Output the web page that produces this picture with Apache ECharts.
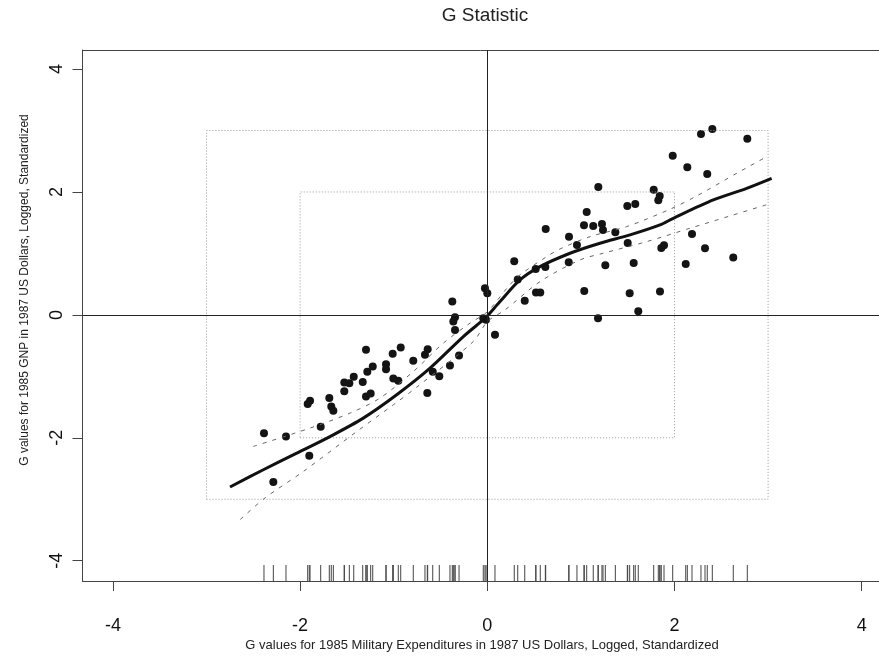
<!DOCTYPE html>
<html><head><meta charset="utf-8">
<script src="https://cdn.jsdelivr.net/npm/echarts@6/dist/echarts.min.js"></script>
<style>html,body{margin:0;padding:0;background:#fff}#c{width:879px;height:657px}</style>
</head><body><div id="c"></div>
<script>
// ---- data ----
const pointsX = [-0.374,-0.345,-0.363,-0.345,-0.043,-1.296,-1.011,-0.925,-0.637,-0.666,-0.791,-1.082,-1.082,-1.224,-1.282,-1.427,-1.528,-1.474,-1.331,-1.528,-1.004,-0.951,-0.302,-0.399,-0.583,-0.513,-0.641,-1.296,-1.246,-1.688,-1.894,-1.919,-1.667,-1.645,-1.780,-2.151,-2.386,-1.902,-2.286,
  2.283,2.404,2.778,1.981,2.137,2.350,1.186,1.778,1.842,1.827,1.496,1.581,1.062,1.033,1.132,1.225,1.236,1.368,0.624,0.873,0.958,1.500,2.187,1.859,1.888,2.326,2.628,2.120,0.288,0.517,0.620,0.870,1.261,1.564,0.325,0.520,0.566,1.036,1.521,1.845,0.400,1.613,1.183,-0.025,0.000,-0.014,0.082];
const pointsY = [0.216,-0.037,-0.109,-0.244,-0.054,-0.569,-0.634,-0.532,-0.558,-0.650,-0.748,-0.802,-0.883,-0.841,-0.927,-1.008,-1.101,-1.111,-1.094,-1.241,-1.036,-1.073,-0.662,-0.824,-0.927,-0.997,-1.273,-1.328,-1.280,-1.354,-1.398,-1.452,-1.491,-1.561,-1.821,-1.979,-1.924,-2.293,-2.720,
  2.943,3.024,2.867,2.590,2.402,2.293,2.081,2.037,1.935,1.865,1.772,1.805,1.675,1.459,1.447,1.480,1.382,1.345,1.398,1.273,1.138,1.171,1.317,1.089,1.133,1.085,0.932,0.829,0.873,0.748,0.780,0.857,0.808,0.846,0.574,0.363,0.363,0.390,0.353,0.379,0.228,0.060,-0.054,0.434,0.353,-0.081,-0.325];
const smoothX = [-2.749,-2.393,-2.036,-1.681,-1.325,-0.968,-0.612,-0.256,-0.043,-0.006,0.136,0.349,0.563,0.884,1.204,1.525,1.845,1.987,2.415,2.771,3.038];
const smoothY = [-2.80,-2.52,-2.25,-1.98,-1.68,-1.30,-0.867,-0.353,-0.081,-0.028,0.216,0.569,0.785,1.003,1.166,1.301,1.463,1.572,1.870,2.060,2.223];
const upperX = [-2.5,-1.894,-1.467,-1.147,-0.791,-0.47,-0.185,0,0.224,0.349,0.635,0.777,1.097,1.489,1.952,2.237,2.665,2.98];
const upperY = [-2.14,-1.842,-1.598,-1.354,-0.922,-0.46,-0.135,0.05,0.46,0.65,0.948,1.073,1.273,1.436,1.719,1.935,2.304,2.57];
const lowerX = [-2.64,-2.376,-1.966,-1.395,-1.004,-0.754,-0.15,0,0.189,0.563,0.990,1.239,1.703,2.166,2.593,2.98];
const lowerY = [-3.33,-2.98,-2.548,-1.898,-1.463,-1.176,-0.434,-0.11,0.081,0.541,0.894,1.003,1.192,1.41,1.61,1.79];
const xTicks = [-4,-2,0,2,4];
const yTicks = [-4,-2,0,2,4];
const boxOuter = 3;
const boxInner = 2;
const titleText = 'G Statistic';
const xName = 'G values for 1985 Military Expenditures in 1987 US Dollars, Logged, Standardized';
const yName = 'G values for 1985 GNP in 1987 US Dollars, Logged, Standardized';

// ---- chart ----
const X_MIN = -4.325, X_MAX = 4.185, Y_MIN = -4.33, Y_MAX = 4.31;
const zip = (a, b) => a.map((v, i) => [v, b[i]]);
const box = s => [[-s,-s],[s,-s],[s,s],[-s,s],[-s,-s]];
const FONT = '"Liberation Sans", Arial, Helvetica, sans-serif';

const chart = echarts.init(document.getElementById('c'));
chart.setOption({
  animation: false,
  backgroundColor: '#fff',
  grid: { left: 82.5, right: 0, top: 50, bottom: 76, containLabel: false, show: false },
  xAxis: [{
    type: 'value', min: X_MIN, max: X_MAX, position: 'bottom',
    splitLine: { show: false },
    axisLine: { show: true, onZero: false, lineStyle: { color: '#444', width: 1 } },
    axisTick: { show: true, inside: false, length: 10, customValues: xTicks, lineStyle: { color: '#444' } },
    axisLabel: { customValues: xTicks, margin: 36, fontSize: 18, color: '#111', fontFamily: FONT,
      formatter: v => String(v) }
  }, {
    type: 'value', min: X_MIN, max: X_MAX, position: 'top',
    splitLine: { show: false },
    axisLine: { show: true, onZero: false, lineStyle: { color: '#444', width: 1 } },
    axisTick: { show: false }, axisLabel: { show: false }
  }],
  yAxis: {
    type: 'value', min: Y_MIN, max: Y_MAX, position: 'left',
    splitLine: { show: false },
    axisLine: { show: true, onZero: false, lineStyle: { color: '#444', width: 1 } },
    axisTick: { show: true, inside: false, length: 10, customValues: yTicks, lineStyle: { color: '#444' } },
    axisLabel: { customValues: yTicks, margin: 16, rotate: 90, fontSize: 18, color: '#111', fontFamily: FONT,
      formatter: v => String(v) }
  },
  graphic: [
    { type: 'text', x: 485, y: 16, style: { text: titleText, font: '19px ' + FONT, fill: '#222', align: 'center', verticalAlign: 'middle' } },
    { type: 'text', x: 482, y: 645, style: { text: xName, font: '13px ' + FONT, fill: '#222', align: 'center', verticalAlign: 'middle' } },
    { type: 'text', x: 25, y: 290, rotation: Math.PI / 2, style: { text: yName, font: '12px ' + FONT, fill: '#222', align: 'center', verticalAlign: 'middle' } }
  ],
  series: [
    { type: 'line', data: box(boxOuter), symbol: 'none', silent: true,
      lineStyle: { color: '#999', width: 1, type: [1, 2] } },
    { type: 'line', data: box(boxInner), symbol: 'none', silent: true,
      lineStyle: { color: '#999', width: 1, type: [1, 2] },
      markLine: { symbol: 'none', silent: true, label: { show: false },
        lineStyle: { color: '#222', width: 1, type: 'solid' },
        data: [{ xAxis: 0 }, { yAxis: 0 }] } },
    { type: 'custom', silent: true, clip: false,
      data: pointsX.map(x => [x, Y_MIN]),
      encode: { x: 0, y: 1 },
      renderItem: (params, api) => {
        const p = api.coord([api.value(0), api.value(1)]);
        return { type: 'line', shape: { x1: p[0], y1: p[1], x2: p[0], y2: p[1] - 16 },
          style: { stroke: '#444', lineWidth: 1 } };
      } },
    { type: 'line', data: zip(upperX, upperY), symbol: 'none', smooth: 0.3, silent: true,
      lineStyle: { color: '#666', width: 1, type: [4, 6] } },
    { type: 'line', data: zip(lowerX, lowerY), symbol: 'none', smooth: 0.3, silent: true,
      lineStyle: { color: '#666', width: 1, type: [4, 6] } },
    { type: 'line', data: zip(smoothX, smoothY), symbol: 'none', smooth: 0.3, silent: true,
      lineStyle: { color: '#111', width: 3 } },
    { type: 'scatter', data: zip(pointsX, pointsY), symbol: 'circle', symbolSize: 8, silent: true,
      itemStyle: { color: '#141414', opacity: 1 } }
  ]
});
</script></body></html>
